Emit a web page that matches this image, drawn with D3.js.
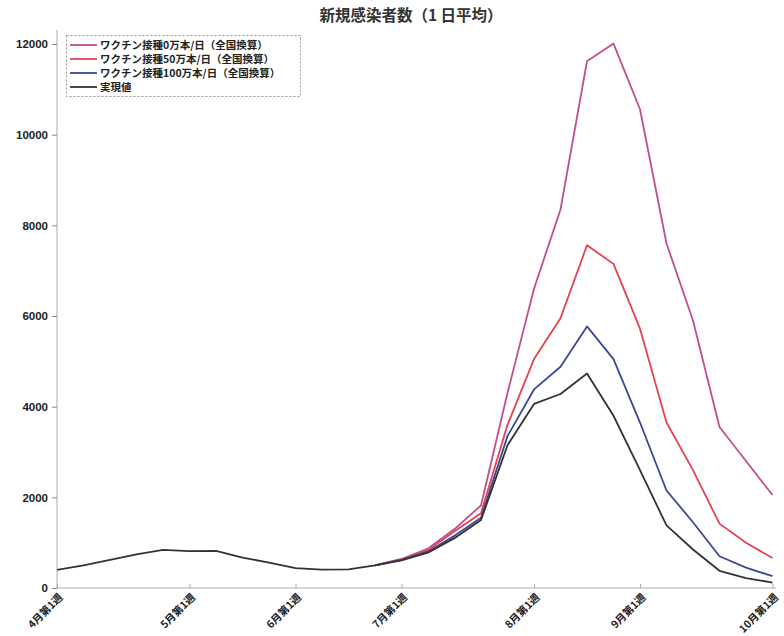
<!DOCTYPE html>
<html>
<head>
<meta charset="utf-8">
<script src="https://cdn.jsdelivr.net/npm/d3@7"></script>
<style>
  html, body { margin: 0; padding: 0; background: #fff; }
  svg { display: block; }
  text { font-family: "Liberation Sans", "Noto Sans CJK JP", sans-serif; }
  .jp { font-family: "Noto Sans CJK JP", "Liberation Sans", sans-serif; }
</style>
</head>
<body>
<svg id="chart" width="784" height="636"></svg>
<script>
// Weekly average of new infections, 4月第1週 .. 10月第1週 (28 weeks)
const weeks = d3.range(28);
const actual = [400, 500, 620, 740, 840, 815, 820, 670, 560, 440, 405, 410, 500, 610, 780, 1100, 1500, 3150, 4060, 4280, 4730, 3800, 2600, 1380, 850, 380, 220, 120];
// Scenario projections start from week 12
const scenarioStart = 12;
const vac0 = [500, 640, 870, 1300, 1820, 4300, 6600, 8350, 11620, 12010, 10560, 7600, 5900, 3550, 2800, 2050];
const vac50 = [500, 630, 830, 1250, 1650, 3600, 5050, 5950, 7560, 7150, 5720, 3650, 2600, 1420, 1000, 660];
const vac100 = [500, 620, 800, 1150, 1550, 3350, 4380, 4880, 5770, 5050, 3650, 2150, 1450, 700, 450, 260];
const tickWeeks = [0, 5, 9, 13, 18, 22, 27];
const tickLabels = ["4月第1週", "5月第1週", "6月第1週", "7月第1週", "8月第1週", "9月第1週", "10月第1週"];
const yTicks = [0, 2000, 4000, 6000, 8000, 10000, 12000];
const seriesNames = ["ワクチン接種0万本/日（全国換算）", "ワクチン接種50万本/日（全国換算）", "ワクチン接種100万本/日（全国換算）", "実現値"];
const seriesColors = ["#c04f8e", "#e2434f", "#3b4797", "#333333"];

const svg = d3.select("#chart");
const x = d3.scaleLinear().domain([0, 27]).range([57, 772.5]);
const y = d3.scaleLinear().domain([0, 12000]).range([588, 44]);

// title
svg.append("text")
  .attr("class", "jp")
  .attr("x", 411).attr("y", 21)
  .attr("text-anchor", "middle")
  .attr("font-size", 15.5).attr("font-weight", "bold")
  .attr("fill", "#333")
  .text("新規感染者数（1 日平均）");

// y axis
const yAxis = svg.append("g").attr("transform", "translate(57,0)")
  .call(d3.axisLeft(y).tickValues(yTicks).tickSize(5).tickPadding(4).tickFormat(d3.format("d")));
yAxis.select(".domain").attr("d", "M0,30V588").attr("stroke", "#bbb").attr("stroke-width", 1.2);
yAxis.selectAll(".tick line").attr("stroke", "#888");
yAxis.selectAll(".tick text").attr("font-size", 11.5).attr("font-weight", "bold").attr("fill", "#222");

// x axis
const xAxis = svg.append("g").attr("transform", "translate(0,588)")
  .call(d3.axisBottom(x).tickValues(tickWeeks).tickSize(-4).tickFormat((d, i) => tickLabels[i]));
xAxis.select(".domain").attr("d", "M57,0H776").attr("stroke", "#c8c8c8").attr("stroke-width", 1.5);
xAxis.selectAll(".tick line").attr("stroke", "#aaa");
xAxis.selectAll(".tick text")
  .attr("class", "jp")
  .attr("font-size", 10.5).attr("font-weight", "bold").attr("fill", "#222")
  .attr("text-anchor", "end")
  .attr("dy", 0).attr("y", 0)
  .attr("transform", "translate(6,10) rotate(-45)");

// lines
const line = d3.line().x(d => x(d[0])).y(d => y(d[1]));
const scen = [vac0, vac50, vac100].map(arr => arr.map((v, i) => [scenarioStart + i, v]));
const act = actual.map((v, i) => [weeks[i], v]);
const allSeries = [scen[0], scen[1], scen[2], act];
svg.append("g").selectAll("path")
  .data(allSeries)
  .join("path")
  .attr("d", line)
  .attr("fill", "none")
  .attr("stroke", (d, i) => seriesColors[i])
  .attr("stroke-width", 1.8)
  .attr("stroke-linejoin", "round");

// legend
const lg = svg.append("g");
lg.append("rect").attr("x", 66.5).attr("y", 35.5).attr("width", 234).attr("height", 61)
  .attr("fill", "#fff").attr("stroke", "#777").attr("stroke-width", 0.8).attr("stroke-dasharray", "2,2");
seriesNames.forEach((name, i) => {
  const yy = 45 + i * 14;
  lg.append("line").attr("x1", 70).attr("x2", 97).attr("y1", yy).attr("y2", yy)
    .attr("stroke", seriesColors[i]).attr("stroke-width", 1.8);
  lg.append("text").attr("class", "jp").attr("x", 100).attr("y", yy + 4)
    .attr("font-size", 10.5).attr("font-weight", "bold").attr("fill", "#222").text(name);
});
</script>
</body>
</html>
